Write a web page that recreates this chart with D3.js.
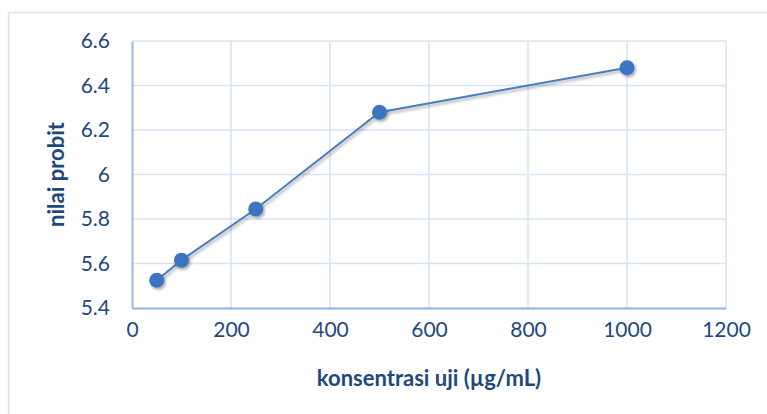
<!DOCTYPE html>
<html>
<head>
<meta charset="utf-8">
<script src="https://cdn.jsdelivr.net/npm/d3@7"></script>
<style>
  body { margin: 0; background: #fff; }
  .tick text { font-family: Lato, "Open Sans", sans-serif; font-size: 21px; fill: #1f497d; }
  .axtitle { font-family: Lato, "Open Sans", sans-serif; font-size: 22px; font-weight: bold; fill: #1f497d; }
</style>
</head>
<body>
<div id="chart"></div>
<script>
// concentration (µg/mL) vs probit value
var konsentrasi = [50, 100, 250, 500, 1000];
var probit = [5.525, 5.615, 5.845, 6.28, 6.48];
var xTicks = [0, 200, 400, 600, 800, 1000, 1200];
var yTicks = [5.4, 5.6, 5.8, 6, 6.2, 6.4, 6.6];

var width = 767, height = 414;
var margin = {left: 132, right: 41, top: 41, bottom: 106};

var svg = d3.select("#chart").append("svg")
    .attr("width", width)
    .attr("height", height);

// drop shadow for markers
var defs = svg.append("defs");
var f = defs.append("filter").attr("id", "shadow")
    .attr("x", "-50%").attr("y", "-50%").attr("width", "200%").attr("height", "200%");
f.append("feDropShadow")
    .attr("dx", 1.5).attr("dy", 2).attr("stdDeviation", 1.5)
    .attr("flood-color", "#000").attr("flood-opacity", 0.35);

// outer chart frame
svg.append("rect")
    .attr("x", 8.5).attr("y", 12.5)
    .attr("width", 800).attr("height", 450)
    .attr("fill", "none")
    .attr("stroke", "#d6e3f4")
    .attr("stroke-width", 1.5);

var x = d3.scaleLinear().domain([0, 1200]).range([margin.left, width - margin.right]);
var y = d3.scaleLinear().domain([5.4, 6.6]).range([height - margin.bottom, margin.top]);

// gridlines
svg.append("g").selectAll("line.v")
    .data(xTicks.slice(1))
    .enter().append("line")
    .attr("x1", function (d) { return x(d); })
    .attr("x2", function (d) { return x(d); })
    .attr("y1", y(6.6)).attr("y2", y(5.4))
    .attr("stroke", "#d6e3f4").attr("stroke-width", 1.5);

svg.append("g").selectAll("line.h")
    .data(yTicks.slice(1))
    .enter().append("line")
    .attr("x1", x(0)).attr("x2", x(1200))
    .attr("y1", function (d) { return y(d); })
    .attr("y2", function (d) { return y(d); })
    .attr("stroke", "#d6e3f4").attr("stroke-width", 1.5);

// axes
var xAxis = svg.append("g")
    .attr("transform", "translate(0," + y(5.4) + ")")
    .call(d3.axisBottom(x).tickValues(xTicks).tickSize(0).tickPadding(14).tickFormat(d3.format("d")));
xAxis.select(".domain").attr("stroke", "#8db3e2").attr("stroke-width", 1.8);

var yAxis = svg.append("g")
    .attr("transform", "translate(" + x(0) + ",0)")
    .call(d3.axisLeft(y).tickValues(yTicks).tickSize(0).tickPadding(22)
        .tickFormat(function (d) { return d === 6 ? "6" : d3.format(".1f")(d); }));
yAxis.select(".domain").attr("stroke", "#8db3e2").attr("stroke-width", 1.8);

// axis titles
svg.append("text")
    .attr("class", "axtitle")
    .attr("x", 429).attr("y", 386)
    .attr("text-anchor", "middle")
    .text("konsentrasi uji (µg/mL)");

svg.append("text")
    .attr("class", "axtitle")
    .attr("transform", "translate(64," + ((y(5.4) + y(6.6)) / 2) + ") rotate(-90)")
    .attr("text-anchor", "middle")
    .text("nilai probit");

// series
var pts = konsentrasi.map(function (d, i) { return [d, probit[i]]; });
var line = d3.line()
    .x(function (d) { return x(d[0]); })
    .y(function (d) { return y(d[1]); });

svg.append("path")
    .datum(pts)
    .attr("d", line)
    .attr("fill", "none")
    .attr("stroke", "#4a7ebb")
    .attr("stroke-width", 2)
    .attr("filter", "url(#shadow)");

svg.append("g").selectAll("circle")
    .data(pts)
    .enter().append("circle")
    .attr("cx", function (d) { return x(d[0]); })
    .attr("cy", function (d) { return y(d[1]); })
    .attr("r", 7.5)
    .attr("fill", "#3b74c2")
    .attr("filter", "url(#shadow)");
</script>
</body>
</html>
